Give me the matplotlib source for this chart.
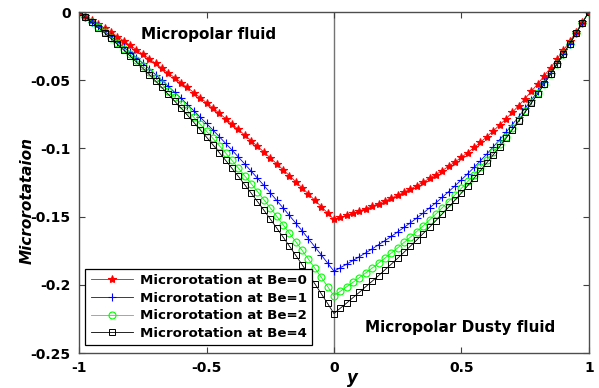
import numpy as np
from matplotlib import pyplot as plt

plt.rcParams['font.family'] = 'DejaVu Sans'
plt.rcParams['axes.unicode_minus'] = False

# y from -1 to 1, step 0.025
y = np.round(np.linspace(-1, 1, 81), 3)

# microrotation profiles for Be = 0, 1, 2, 4
N_be0 = [0, -.0029, -.0058, -.0088, -.0118, -.0148, -.0180, -.0211, -.0243, -.0276,
         -.0309, -.0342, -.0376, -.0411, -.0446, -.0481, -.0517, -.0553, -.0590, -.0627,
         -.0665, -.0703, -.0742, -.0781, -.0821, -.0861, -.0902, -.0943, -.0984, -.1026,
         -.1069, -.1112, -.1155, -.1199, -.1244, -.1288, -.1334, -.1380, -.1426, -.1473,
         -.1520,
         -.1505, -.1490, -.1475, -.1458, -.1441, -.1423, -.1405, -.1385, -.1365, -.1343,
         -.1321, -.1297, -.1273, -.1247, -.1220, -.1192, -.1162, -.1131, -.1099, -.1065,
         -.1030, -.0993, -.0954, -.0914, -.0872, -.0828, -.0783, -.0735, -.0686, -.0634,
         -.0581, -.0525, -.0468, -.0408, -.0346, -.0282, -.0215, -.0146, -.0074, 0]

N_be1 = [0, -.0035, -.0070, -.0106, -.0142, -.0179, -.0217, -.0256, -.0295, -.0335,
         -.0375, -.0416, -.0458, -.0501, -.0544, -.0588, -.0632, -.0678, -.0723, -.0770,
         -.0817, -.0865, -.0913, -.0963, -.1012, -.1063, -.1114, -.1166, -.1218, -.1271,
         -.1325, -.1380, -.1435, -.1491, -.1547, -.1604, -.1662, -.1721, -.1780, -.1840,
         -.1900,
         -.1874, -.1848, -.1821, -.1793, -.1765, -.1736, -.1706, -.1676, -.1645, -.1612,
         -.1579, -.1545, -.1510, -.1474, -.1436, -.1398, -.1358, -.1317, -.1274, -.1230,
         -.1185, -.1139, -.1090, -.1040, -.0989, -.0936, -.0881, -.0825, -.0766, -.0706,
         -.0644, -.0581, -.0515, -.0447, -.0377, -.0306, -.0232, -.0156, -.0079, 0]

N_be2 = [0, -.0036, -.0072, -.0110, -.0148, -.0187, -.0227, -.0268, -.0310, -.0352,
         -.0395, -.0439, -.0484, -.0530, -.0577, -.0624, -.0672, -.0721, -.0771, -.0822,
         -.0874, -.0926, -.0979, -.1033, -.1088, -.1144, -.1201, -.1258, -.1316, -.1375,
         -.1435, -.1496, -.1558, -.1620, -.1683, -.1747, -.1812, -.1878, -.1944, -.2012,
         -.2080,
         -.2047, -.2014, -.1981, -.1946, -.1912, -.1877, -.1841, -.1804, -.1767, -.1729,
         -.1689, -.1650, -.1609, -.1567, -.1524, -.1480, -.1435, -.1389, -.1341, -.1292,
         -.1242, -.1191, -.1138, -.1084, -.1028, -.0971, -.0913, -.0852, -.0790, -.0727,
         -.0661, -.0595, -.0526, -.0456, -.0383, -.0310, -.0234, -.0157, -.0079, 0]

N_be4 = [0, -.0037, -.0075, -.0114, -.0153, -.0194, -.0236, -.0278, -.0322, -.0366,
         -.0412, -.0458, -.0505, -.0553, -.0603, -.0653, -.0704, -.0756, -.0809, -.0862,
         -.0917, -.0973, -.1030, -.1087, -.1146, -.1205, -.1266, -.1327, -.1389, -.1452,
         -.1517, -.1582, -.1648, -.1715, -.1783, -.1852, -.1921, -.1992, -.2064, -.2136,
         -.2210,
         -.2171, -.2133, -.2093, -.2054, -.2013, -.1973, -.1932, -.1890, -.1848, -.1805,
         -.1761, -.1716, -.1671, -.1624, -.1577, -.1529, -.1480, -.1430, -.1379, -.1327,
         -.1273, -.1218, -.1162, -.1105, -.1047, -.0987, -.0926, -.0863, -.0799, -.0734,
         -.0666, -.0598, -.0528, -.0456, -.0383, -.0309, -.0233, -.0156, -.0078, 0]

x_ticks = [-1, -0.5, 0, 0.5, 1]
x_labels = ['-1', '-0.5', '0', '0.5', '1']
y_ticks = [0, -0.05, -0.1, -0.15, -0.2, -0.25]
y_labels = ['0', '-0.05', '-0.1', '-0.15', '-0.2', '-0.25']

fig = plt.figure(figsize=(5.99, 3.88), dpi=100)
ax = fig.add_axes([0.132, 0.090, 0.851, 0.879])

ax.axvline(0, color='0.45', lw=1.0, zorder=1)

ax.plot(y, N_be0, '-', color='red', marker='*', ms=6, mew=0.8, lw=0.6,
        label='Microrotation at Be=0')
ax.plot(y, N_be1, '-', color='blue', marker='+', ms=6, mew=0.8, lw=0.6,
        label='Microrotation at Be=1')
ax.plot(y, N_be2, '-', color='#00ff00', marker='o', ms=5, mew=0.8, lw=0.6,
        mfc='none', label='Microrotation at Be=2')
ax.plot(y, N_be4, '-', color='black', marker='s', ms=5, mew=0.7, lw=0.6,
        mfc='none', label='Microrotation at Be=4')

ax.set_xlim(-1, 1)
ax.set_ylim(-0.25, 0)
ax.set_xticks(x_ticks)
ax.set_xticklabels(x_labels, fontweight='bold', fontsize=10)
ax.set_yticks(y_ticks)
ax.set_yticklabels(y_labels, fontweight='bold', fontsize=10)
ax.tick_params(direction='in', length=4, width=0.8, color='0.25',
               top=True, right=True, pad=6)

for s in ax.spines.values():
    s.set_color('0.3')
    s.set_linewidth(1.0)

ax.text(-0.757, -0.0165, 'Micropolar fluid', fontsize=11, fontweight='bold',
        va='center', ha='left')
ax.text(0.122, -0.231, 'Micropolar Dusty fluid', fontsize=11, fontweight='bold',
        va='center', ha='left')

fig.text(27 / 599, 1 - 201 / 388, 'Microrotataion', rotation=90, fontsize=11,
         fontweight='bold', fontstyle='italic', ha='center', va='center')
fig.text(352 / 599, 1 - 378 / 388, 'y', fontsize=12, fontweight='bold',
         fontstyle='italic', ha='center', va='center')

leg = ax.legend(loc='lower left', bbox_to_anchor=(0.012, 0.023), borderaxespad=0,
                prop={'weight': 'bold', 'size': 9.6}, handlelength=3.2,
                handletextpad=0.5, labelspacing=0.35, borderpad=0.4,
                fancybox=False, framealpha=1, edgecolor='black')
leg.get_frame().set_linewidth(0.9)

fig.savefig('out.png', dpi=100)
